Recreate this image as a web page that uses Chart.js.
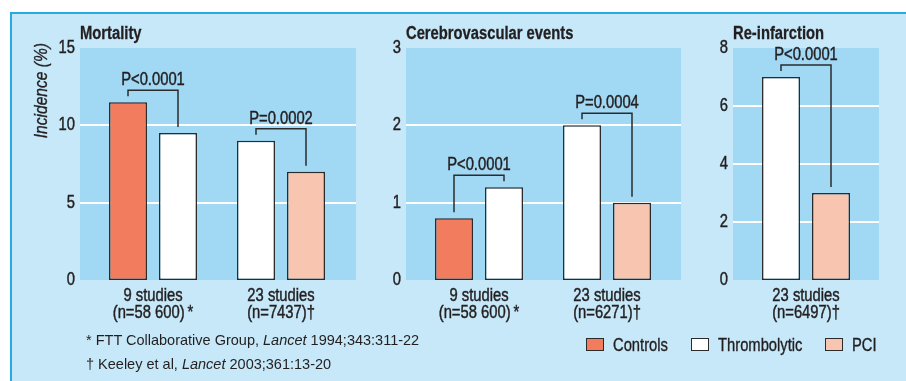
<!DOCTYPE html>
<html>
<head>
<meta charset="utf-8">
<title>Incidence of adverse outcomes</title>
<script src="https://cdn.jsdelivr.net/npm/chart.js@4.4.1/dist/chart.umd.min.js"></script>
<style>
  html, body { margin: 0; padding: 0; background: #ffffff; }
  body {
    width: 906px; height: 381px; position: relative; overflow: hidden;
    font-family: "Liberation Sans", Arial, sans-serif;
    color: #231f20;
  }
  #sheet {
    position: absolute; left: 10px; top: 12px; width: 896px; height: 369px;
    background: #c6e8f8; border-left: 2px solid #2aa9e0; border-top: 2px solid #2aa9e0;
  }
  canvas { position: absolute; }
  #notes {
    position: absolute; left: 86px; top: 328px;
    font-size: 14.5px; line-height: 24px; white-space: nowrap;
  }
  .key-box { position: absolute; top: 338px; width: 16px; height: 11px; border: 1.5px solid #2b2b2b; }
  .key-text {
    position: absolute; top: 333px; font-size: 18px; line-height: 24px; white-space: nowrap;
    transform: scaleX(0.82); transform-origin: 0 50%;
    -webkit-text-stroke: 0.35px #231f20;
  }
</style>
</head>
<body>
<div id="sheet"></div>
<canvas id="mortality" width="350" height="310" style="left:20px;top:20px"></canvas>
<canvas id="cerebro" width="320" height="310" style="left:370px;top:20px"></canvas>
<canvas id="reinfarction" width="216" height="310" style="left:690px;top:20px"></canvas>
<div id="notes"></div>
<div id="legend"></div>
<script>
// ---- data ----
const seriesNames = ['Controls', 'Thrombolytic', 'PCI'];

const mortalityGroups = [['9 studies', '(n=58 600)\u2009*'], ['23 studies', '(n=7437)\u2020']];
const mortalityControls = [11.5, null];
const mortalityThrombolytic = [9.5, 9];
const mortalityPCI = [null, 7];
const mortalityP = ['P<0.0001', 'P=0.0002'];
const mortalityTicks = [0, 5, 10, 15];

const cerebroGroups = [['9 studies', '(n=58 600)\u2009*'], ['23 studies', '(n=6271)\u2020']];
const cerebroControls = [0.8, null];
const cerebroThrombolytic = [1.2, 2];
const cerebroPCI = [null, 1];
const cerebroP = ['P<0.0001', 'P=0.0004'];
const cerebroTicks = [0, 1, 2, 3];

const reinfarctionGroups = [['23 studies', '(n=6497)\u2020']];
const reinfarctionControls = [null];
const reinfarctionThrombolytic = [7];
const reinfarctionPCI = [3];
const reinfarctionP = ['P<0.0001'];
const reinfarctionTicks = [0, 2, 4, 6, 8];

const yAxisLabel = 'Incidence (%)';
const footnotes = [
  '* FTT Collaborative Group, <i>Lancet</i> 1994;343:311-22',
  '\u2020 Keeley et al, <i>Lancet</i> 2003;361:13-20'
];

// ---- styling ----
const seriesColors = ['#f27c5e', '#ffffff', '#f8c6b0'];
const ink = '#231f20';
const plotFill = '#a1d9f5';
const FACE = '"Liberation Sans", Arial, sans-serif';
const SQUEEZE = 0.82;   // condensed look: squeeze glyphs horizontally

function condensedText(ctx, txt, x, y, font, align, baseline, weight) {
  ctx.save();
  ctx.font = font;
  ctx.fillStyle = ink;
  ctx.strokeStyle = ink;
  ctx.lineWidth = weight == null ? 0.45 : weight;
  ctx.textAlign = align;
  ctx.textBaseline = baseline;
  ctx.translate(x, y);
  ctx.scale(SQUEEZE, 1);
  ctx.fillText(txt, 0, 0);
  if (ctx.lineWidth > 0) ctx.strokeText(txt, 0, 0);
  ctx.restore();
}

// Plot background, white grid lines, tick labels, panel title and y-axis caption
const panelFrame = {
  id: 'panelFrame',
  beforeDraw(chart, args, o) {
    const { ctx, chartArea: a } = chart;
    const l = a.left - o.extLeft, r = a.right + o.extRight;
    ctx.save();
    ctx.fillStyle = plotFill;
    ctx.fillRect(l, a.top, r - l, a.bottom - a.top);
    ctx.restore();
  },
  beforeDatasetsDraw(chart, args, o) {
    const { ctx, chartArea: a } = chart;
    const y = chart.scales.y;
    const l = a.left - o.extLeft, r = a.right + o.extRight;
    ctx.save();
    ctx.strokeStyle = '#ffffff';
    ctx.lineWidth = 2;
    y.ticks.forEach(t => {
      if (t.value === y.min || t.value === y.max) return;
      const py = Math.round(y.getPixelForValue(t.value));
      ctx.beginPath();
      ctx.moveTo(l, py);
      ctx.lineTo(r, py);
      ctx.stroke();
    });
    ctx.restore();
  },
  afterDraw(chart, args, o) {
    const { ctx, chartArea: a } = chart;
    const x = chart.scales.x, y = chart.scales.y;
    // value ticks
    y.ticks.forEach(t => {
      condensedText(ctx, String(t.value), a.left - o.extLeft - 5, y.getPixelForValue(t.value), '18px ' + FACE, 'right', 'middle');
    });
    // study group labels
    chart.data.labels.forEach((lines, i) => {
      const px = x.getPixelForTick(i);
      lines.forEach((line, j) => {
        condensedText(ctx, line, px, a.bottom + 16 + j * 17, '18px ' + FACE, 'center', 'middle');
      });
    });
    // title
    condensedText(ctx, o.title, a.left - o.extLeft, a.top - 9, 'bold 18px ' + FACE, 'left', 'alphabetic', 0.3);
    // y-axis caption
    if (o.axisLabel) {
      ctx.save();
      ctx.font = 'italic 19px ' + FACE;
      ctx.fillStyle = ink;
      ctx.strokeStyle = ink;
      ctx.lineWidth = 0.35;
      ctx.translate(22, a.top - 5);
      ctx.rotate(-Math.PI / 2);
      ctx.scale(SQUEEZE, 1);
      ctx.textAlign = 'right';
      ctx.textBaseline = 'middle';
      ctx.fillText(o.axisLabel, 0, 0);
      ctx.strokeText(o.axisLabel, 0, 0);
      ctx.restore();
    }
  }
};

// Significance brackets joining the two bars of each study group
const pBrackets = {
  id: 'pBrackets',
  afterDatasetsDraw(chart, args, o) {
    const ctx = chart.ctx;
    (o.labels || []).forEach((txt, i) => {
      const bars = [];
      chart.data.datasets.forEach((ds, di) => {
        if (ds.data[i] == null) return;
        const el = chart.getDatasetMeta(di).data[i];
        bars.push({ x: el.x, y: el.y });
      });
      if (bars.length < 2) return;
      bars.sort((p, q) => p.x - q.x);
      const [b1, b2] = bars;
      const h = Math.min(b1.y, b2.y) - 12;
      ctx.save();
      ctx.strokeStyle = '#2b2b2b';
      ctx.lineWidth = 1.5;
      ctx.beginPath();
      ctx.moveTo(b1.x, b1.y - 6);
      ctx.lineTo(b1.x, h);
      ctx.lineTo(b2.x, h);
      ctx.lineTo(b2.x, b2.y - 6);
      ctx.stroke();
      ctx.restore();
      condensedText(ctx, txt, (b1.x + b2.x) / 2, h - 5, '18px ' + FACE, 'center', 'alphabetic');
    });
  }
};

function makePanel(id, groups, controls, thrombolytic, pci, pLabels, ticks, look) {
  const values = [controls, thrombolytic, pci];
  new Chart(document.getElementById(id), {
    type: 'bar',
    data: {
      labels: groups,
      datasets: seriesNames.map((name, k) => ({
        label: name,
        data: values[k],
        backgroundColor: seriesColors[k],
        borderColor: '#2b2b2b',
        borderWidth: 1.5,
        borderSkipped: false,
        skipNull: true,
        categoryPercentage: 0.78125,
        barPercentage: 0.76
      }))
    },
    options: {
      responsive: false,
      devicePixelRatio: 1,
      animation: false,
      layout: { padding: { left: 0, right: look.padRight, top: 28, bottom: 0 } },
      plugins: {
        legend: { display: false },
        tooltip: { enabled: false },
        panelFrame: { title: look.title, axisLabel: look.axisLabel, extLeft: look.extLeft, extRight: look.extRight },
        pBrackets: { labels: pLabels }
      },
      scales: {
        x: {
          grid: { display: false, drawTicks: false },
          border: { display: false },
          ticks: { display: false },
          afterFit(s) { s.height = 50; }
        },
        y: {
          min: ticks[0],
          max: ticks[ticks.length - 1],
          afterBuildTicks(s) { s.ticks = ticks.map(v => ({ value: v })); },
          grid: { display: false, drawTicks: false },
          border: { display: false },
          ticks: { display: false },
          afterFit(s) { s.width = look.axisWidth; }
        }
      }
    },
    plugins: [panelFrame, pBrackets]
  });
}

makePanel('mortality', mortalityGroups, mortalityControls, mortalityThrombolytic, mortalityPCI, mortalityP, mortalityTicks,
  { title: 'Mortality', axisLabel: yAxisLabel, axisWidth: 69, padRight: 25, extLeft: 9, extRight: 11 });
makePanel('cerebro', cerebroGroups, cerebroControls, cerebroThrombolytic, cerebroPCI, cerebroP, cerebroTicks,
  { title: 'Cerebrovascular events', axisLabel: null, axisWidth: 45, padRight: 19, extLeft: 9, extRight: 10 });
makePanel('reinfarction', reinfarctionGroups, reinfarctionControls, reinfarctionThrombolytic, reinfarctionPCI, reinfarctionP, reinfarctionTicks,
  { title: 'Re-infarction', axisLabel: null, axisWidth: 52, padRight: 36, extLeft: 9, extRight: 9 });

// footnotes
document.getElementById('notes').innerHTML = footnotes.map(f => '<div>' + f + '</div>').join('');

// shared key: swatch, gap, name, gap, next swatch
const legend = document.getElementById('legend');
let keyX = 586;
seriesNames.forEach((n, k) => {
  const box = document.createElement('div');
  box.className = 'key-box';
  box.style.left = keyX + 'px';
  box.style.background = seriesColors[k];
  legend.appendChild(box);
  const label = document.createElement('span');
  label.className = 'key-text';
  label.textContent = n;
  label.style.left = (keyX + 27) + 'px';
  legend.appendChild(label);
  keyX += 27 + label.getBoundingClientRect().width + 23;
});
</script>
</body>
</html>
